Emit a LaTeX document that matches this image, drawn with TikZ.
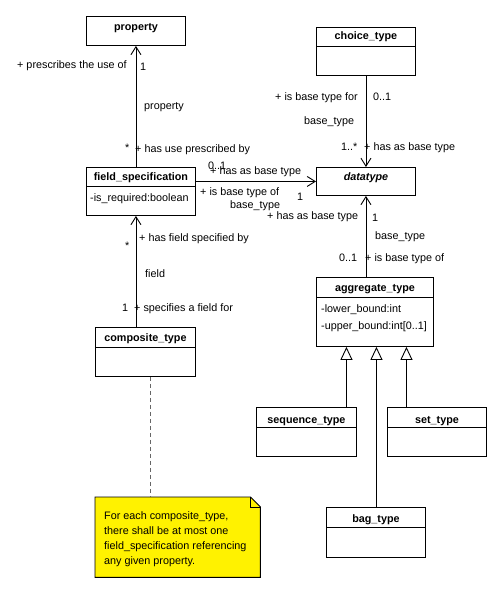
\documentclass[tikz,border=0pt]{standalone}
\usepackage{fontspec}
\setmainfont{Liberation Sans}
\usetikzlibrary{arrows.meta,calc}
\begin{document}
\begin{tikzpicture}[x=1pt,y=-1pt,
  cls/.style={draw, line width=0.9pt, inner sep=0pt, anchor=north west},
  ttl/.style={font=\fontsize{10.8}{13}\selectfont\bfseries, anchor=base, inner sep=0pt},
  lbl/.style={font=\fontsize{10.8}{13}\selectfont, anchor=base west, inner sep=0pt},
  divl/.style={line width=0.9pt},
  assoc/.style={line width=0.9pt, -{Straight Barb[length=8pt,width=10pt,line width=0.9pt]}},
  gen/.style={line width=0.9pt, -{Triangle[open,length=13pt,width=12pt,fill=white,line width=0.9pt]}}]
\useasboundingbox (0,0) rectangle (503,593);
\fill[white] (0,0) rectangle (503,593);

% classes
\node[cls, minimum width=99pt, minimum height=29pt] (prop) at (86,16) {};
\node[ttl] (propT) at (prop.north |- 0,31) {property};

\node[cls, minimum width=99pt, minimum height=48pt] (choice) at (316,27) {};
\draw[divl] ($(choice.north west)+(0,19)$) -- ($(choice.north east)+(0,19)$);
\node[ttl] (choiceT) at (choice.north |- 0,40) {choice\_type};

\node[cls, minimum width=109pt, minimum height=48pt] (fs) at (86,167) {};
\draw[divl] ($(fs.north west)+(0,19)$) -- ($(fs.north east)+(0,19)$);
\node[ttl] (fsT) at (fs.north |- 0,181) {field\_specification};
\node[lbl] (fsA) at (90,202) {-is\_required:boolean};

\node[cls, minimum width=99pt, minimum height=28pt] (dt) at (316,167) {};
\node[ttl] (dtT) at (dt.north |- 0,181) {\itshape datatype};

\node[cls, minimum width=117pt, minimum height=69pt] (agg) at (316,277) {};
\draw[divl] ($(agg.north west)+(0,20)$) -- ($(agg.north east)+(0,20)$);
\node[ttl] (aggT) at (agg.north |- 0,291) {aggregate\_type};
\node[lbl] (aggA1) at (321,312) {-lower\_bound:int};
\node[lbl] (aggA2) at (321,329) {-upper\_bound:int[0..1]};

\node[cls, minimum width=100pt, minimum height=49pt] (comp) at (95,327) {};
\draw[divl] ($(comp.north west)+(0,20)$) -- ($(comp.north east)+(0,20)$);
\node[ttl] (compT) at (comp.north |- 0,341) {composite\_type};

\node[cls, minimum width=100pt, minimum height=49pt] (seq) at (256,407) {};
\draw[divl] ($(seq.north west)+(0,20)$) -- ($(seq.north east)+(0,20)$);
\node[ttl] (seqT) at (seq.north |- 0,423) {sequence\_type};

\node[cls, minimum width=99pt, minimum height=49pt] (set) at (387,407) {};
\draw[divl] ($(set.north west)+(0,20)$) -- ($(set.north east)+(0,20)$);
\node[ttl] (setT) at (set.north |- 0,423) {set\_type};

\node[cls, minimum width=99pt, minimum height=50pt] (bag) at (326,507) {};
\draw[divl] ($(bag.north west)+(0,20)$) -- ($(bag.north east)+(0,20)$);
\node[ttl] (bagT) at (bag.north |- 0,522) {bag\_type};

% associations
\draw[assoc] (fs.north -| prop.south) -- (prop.south);
\draw[assoc] (choice.south) -- (dt.north);
\draw[assoc] (fs.east |- dt.west) -- (dt.west);
\draw[assoc] (agg.north -| dt.south) -- (dt.south);
\draw[assoc] (comp.north -| prop.south) -- (fs.south -| prop.south);

% generalizations
\draw[gen] ([xshift=40pt]seq.north) -- ([xshift=40pt]seq.north |- agg.south);
\draw[gen] ([xshift=-30.5pt]set.north) -- ([xshift=-30.5pt]set.north |- agg.south);
\draw[gen] ([xshift=0.5pt]bag.north) -- ([xshift=0.5pt]bag.north |- agg.south);

% labels property/field_specification
\node[lbl] (l1) at (17,69) {+ prescribes the use of};
\node[lbl] (l2) at (140,71) {1};
\node[lbl] (l3) at (144,110) {property};
\node[lbl] (l4) at (125,152) {*};
\node[lbl] (l5) at (135,153) {+ has use prescribed by};

% labels choice/datatype
\node[lbl] (l6) at (275,101) {+ is base type for};
\node[lbl] (l7) at (373,101) {0..1};
\node[lbl] (l8) at (304,125) {base\_type};
\node[lbl] (l9) at (341,151) {1..*};
\node[lbl] (l10) at (364,151) {+ has as base type};

% labels field_specification/datatype
\node[lbl] (l11) at (208,170) {0..1};
\node[lbl] (l12) at (210,175) {+ has as base type};
\node[lbl] (l13) at (200,196) {+ is base type of};
\node[lbl] (l14) at (230,209) {base\_type};
\node[lbl] (l15) at (297,201) {1};
\node[lbl] (l16) at (267,220) {+ has as base type};

% labels aggregate/datatype
\node[lbl] (l17) at (372,222) {1};
\node[lbl] (l18) at (375,240) {base\_type};
\node[lbl] (l19) at (339,261) {0..1};
\node[lbl] (l20) at (365,261) {+ is base type of};

% labels composite/field_specification
\node[lbl] (l21) at (139,241) {+ has field specified by};
\node[lbl] (l22) at (125,249) {*};
\node[lbl] (l23) at (145,277) {field};
\node[lbl] (l24) at (122,311) {1};
\node[lbl] (l25) at (134,311) {+ specifies a field for};

% note
\node[minimum width=165pt, minimum height=80pt, anchor=north west, inner sep=0pt] (note) at (95,497) {};
\filldraw[fill=yellow, line width=0.9pt] (note.north west) -- ([xshift=-10pt]note.north east) -- ([yshift=-10pt]note.north east) -- (note.south east) -- (note.south west) -- cycle;
\draw[line width=0.9pt] ([xshift=-10pt]note.north east) -- ([xshift=-10pt,yshift=-10pt]note.north east) -- ([yshift=-10pt]note.north east);
\node[lbl] (n1) at (104,519) {For each composite\_type,};
\node[lbl] (n2) at (104,534) {there shall be at most one};
\node[lbl] (n3) at (104,549) {field\_specification referencing};
\node[lbl] (n4) at (104,564) {any given property.};
\draw[line width=0.9pt, black!60, dash pattern=on 4pt off 3pt] ([xshift=5pt]comp.south) -- ([xshift=5pt]comp.south |- note.north);
\end{tikzpicture}
\end{document}
